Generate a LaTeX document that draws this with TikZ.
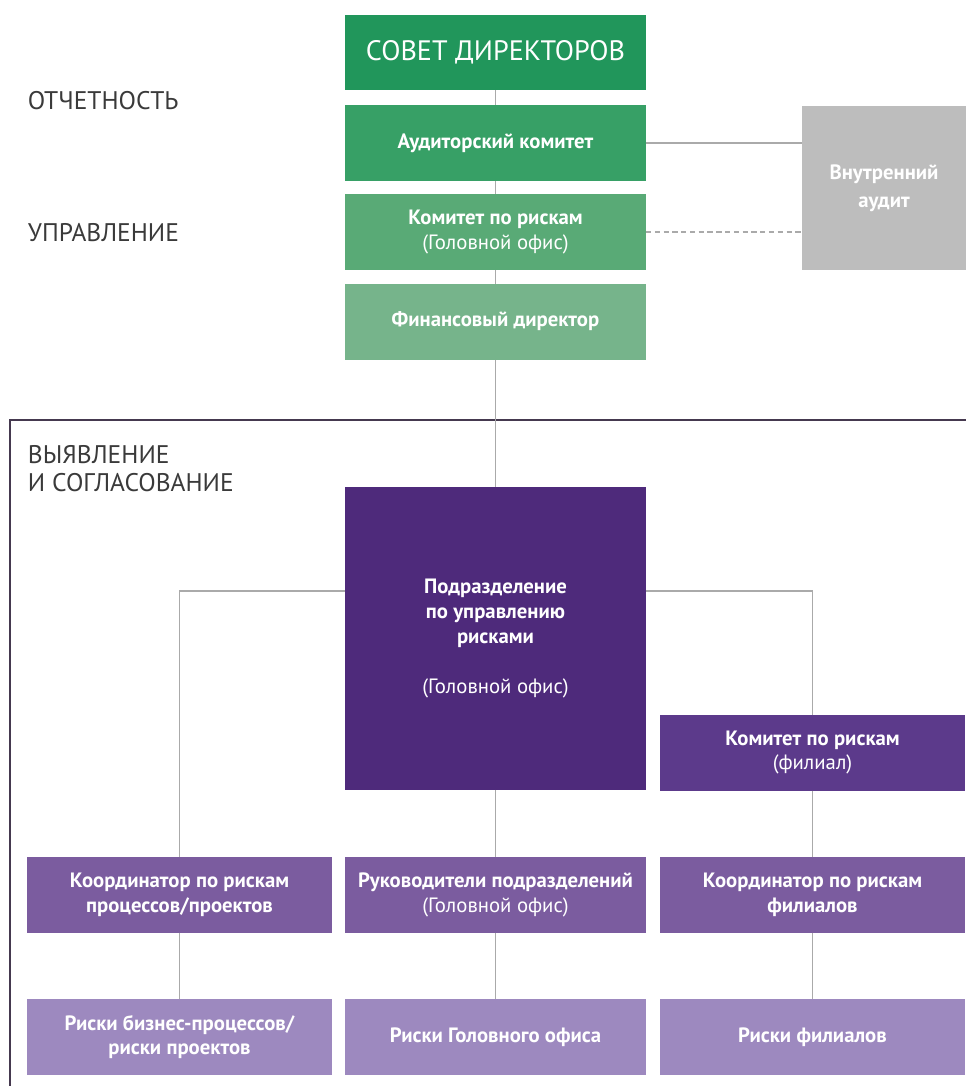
\documentclass[tikz,border=0pt]{standalone}
\usepackage{fontspec}
\setmainfont{PT Sans}
\definecolor{boardgreen}{HTML}{21965B}
\definecolor{auditgreen}{HTML}{37A066}
\definecolor{riskgreen}{HTML}{59AA76}
\definecolor{cfogreen}{HTML}{76B48B}
\definecolor{auditgray}{HTML}{BDBDBD}
\definecolor{unitpurple}{HTML}{4E2A7B}
\definecolor{branchpurple}{HTML}{5C3A8B}
\definecolor{coordpurple}{HTML}{7B5C9F}
\definecolor{riskpurple}{HTML}{9D89BF}
\definecolor{labelgray}{HTML}{3A3A3A}
\definecolor{linegray}{HTML}{AAAAAA}
\definecolor{framegray}{HTML}{45394F}
\begin{document}
\begin{tikzpicture}[x=0.02cm, y=-0.02cm,
    every node/.style={inner sep=0pt, outer sep=0pt, align=center, text=white,
        font=\bfseries\fontsize{11.8}{14.2}\selectfont},
    box/.style={minimum width=6.02cm, minimum height=1.52cm},
    sidebox/.style={minimum width=6.12cm, minimum height=1.52cm},
    lvl/.style={text=labelgray, anchor=west, align=left,
        font=\fontsize{14.5}{16}\selectfont},
    link/.style={draw=linegray, line width=0.6pt}]
    \useasboundingbox (0,0) rectangle (966,1086);
    % levels
    \node[lvl] (report) at (28,101) {ОТЧЕТНОСТЬ};
    \node[lvl] (manage) at (28,233) {УПРАВЛЕНИЕ};
    \node[lvl] (detect) at (28,469) {ВЫЯВЛЕНИЕ\\И СОГЛАСОВАНИЕ};
    \draw[draw=framegray, line width=0.9pt] (10,1086) -- (10,420) -- (966,420);
    % green part
    \node[box, fill=boardgreen, font=\fontsize{16}{18}\selectfont] (board) at (495.5,52.5) {СОВЕТ ДИРЕКТОРОВ};
    \node[box, fill=auditgreen] (auditc) at (495.5,143) {Аудиторский комитет};
    \node[box, fill=riskgreen] (riskho) at (495.5,232) {Комитет по рискам\\{\mdseries (Головной офис)}};
    \node[box, fill=cfogreen] (cfo) at (495.5,321.5) {Финансовый директор};
    \node[fill=auditgray, minimum width=3.28cm, minimum height=3.28cm, font=\bfseries\fontsize{11.8}{16}\selectfont] (intaudit) at (884,188) {Внутренний\\аудит};
    % purple part
    \node[fill=unitpurple, minimum width=6.02cm, minimum height=6.06cm] (unit) at (495.5,638.5)
        {Подразделение\\по управлению\\рисками\\[14pt]{\mdseries (Головной офис)}};
    \node[sidebox, fill=branchpurple] (riskbr) at (812.5,752.5) {Комитет по рискам\\{\mdseries (филиал)}};
    \node[sidebox, fill=coordpurple] (coordproc) at (179.5,894.5) {Координатор по рискам\\процессов/проектов};
    \node[box, fill=coordpurple] (heads) at (495.5,894.5) {Руководители подразделений\\{\mdseries (Головной офис)}};
    \node[sidebox, fill=coordpurple] (coordbr) at (812.5,894.5) {Координатор по рискам\\филиалов};
    \node[sidebox, fill=riskpurple] (riskbp) at (179.5,1037) {Риски бизнес-процессов/\\риски проектов};
    \node[box, fill=riskpurple] (riskhof) at (495.5,1037) {Риски Головного офиса};
    \node[sidebox, fill=riskpurple] (riskfil) at (812.5,1037) {Риски филиалов};
    % connectors
    \draw[link] (board) -- (auditc);
    \draw[link] (auditc) -- (riskho);
    \draw[link] (riskho) -- (cfo);
    \draw[link] (cfo) -- (unit);
    \draw[link] (auditc) -- (auditc -| intaudit.west);
    \draw[link, dash pattern=on 3pt off 2pt] (riskho) -- (riskho -| intaudit.west);
    \coordinate (lturn) at (179.5,591);
    \coordinate (rturn) at (812.5,591);
    \draw[link] (unit.west |- lturn) -- (lturn) -- (coordproc);
    \draw[link] (unit.east |- rturn) -- (rturn) -- (riskbr);
    \draw[link] (unit) -- (heads);
    \draw[link] (riskbr) -- (coordbr);
    \draw[link] (coordproc) -- (riskbp);
    \draw[link] (heads) -- (riskhof);
    \draw[link] (coordbr) -- (riskfil);
\end{tikzpicture}
\end{document}
